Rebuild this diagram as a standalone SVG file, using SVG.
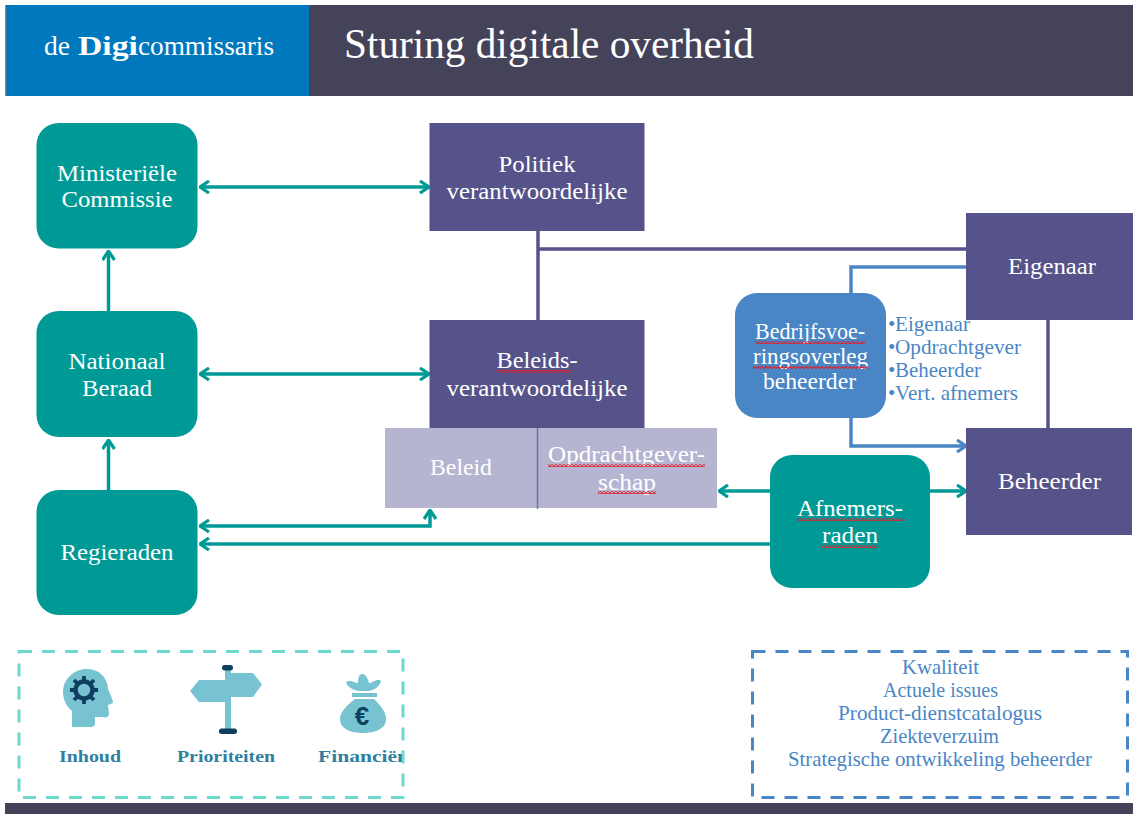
<svg xmlns="http://www.w3.org/2000/svg" width="1133" height="814" viewBox="0 0 1133 814">
<style>
text{font-family:"Liberation Serif","DejaVu Serif",serif;text-anchor:middle}
.w{fill:#fff;font-size:24px}
.p{fill:#4a86c5;font-size:21px}
.b{fill:#4a86c5;font-size:21px;text-anchor:start}
.l{fill:#2f7f9f;font-size:17px;font-weight:bold}
.teal{fill:#009a96}.pur{fill:#55538a}.lil{fill:#b5b5d2}
.ct{fill:none;stroke:#009a96;stroke-width:3.5}
.cp{fill:none;stroke:#55538a;stroke-width:3.5}
.cb{fill:none;stroke:#4a86c5;stroke-width:3.5}
.ic{fill:#78c3d1}.nv{fill:#0f3f5f}
</style>
<defs>
<marker id="at" viewBox="0 0 12 14" refX="11" refY="7" markerUnits="userSpaceOnUse" markerWidth="12" markerHeight="14" orient="auto-start-reverse"><path d="M2 1L11 7L2 13" fill="none" stroke="#009a96" stroke-width="3.2"/></marker>
<marker id="ab" viewBox="0 0 12 14" refX="11" refY="7" markerUnits="userSpaceOnUse" markerWidth="12" markerHeight="14" orient="auto"><path d="M2 1L11 7L2 13" fill="none" stroke="#4a86c5" stroke-width="3.2"/></marker>
<pattern id="sq" width="4" height="3" patternUnits="userSpaceOnUse"><path d="M0 2.500L2 .5L4 2.500" fill="none" stroke="#e0202c" stroke-width="1.200"/></pattern>
<clipPath id="fin"><rect x="300" y="740" width="102" height="40"/></clipPath>
</defs>

<g id="header">
<rect x="5" y="5" width="1128" height="91" fill="#44435a"/>
<rect x="5" y="5" width="1.500" height="91" fill="#8a8a8a"/>
<rect x="6.500" y="5" width="302.500" height="91" fill="#0078bd"/>
<text x="44" y="55" fill="#fff" font-size="27" style="text-anchor:start"><tspan x="44" textLength="26" lengthAdjust="spacingAndGlyphs">de</tspan><tspan x="78" font-weight="bold" textLength="60" lengthAdjust="spacingAndGlyphs">Digi</tspan><tspan x="138" textLength="136" lengthAdjust="spacingAndGlyphs">commissaris</tspan></text>
<text x="344" y="58" fill="#fff" font-size="43" style="text-anchor:start" textLength="410" lengthAdjust="spacingAndGlyphs">Sturing digitale overheid</text>
</g>
<rect id="footer" x="5" y="803" width="1128" height="11" fill="#44435a"/>

<g id="connectors">
<path class="ct" d="M200 187H429" marker-start="url(#at)" marker-end="url(#at)"/>
<path class="ct" d="M200 374H429" marker-start="url(#at)" marker-end="url(#at)"/>
<path class="ct" d="M108.500 311V251" marker-end="url(#at)"/>
<path class="ct" d="M108.500 490V440" marker-end="url(#at)"/>
<path class="ct" d="M200 526H430V510" marker-start="url(#at)" marker-end="url(#at)"/>
<path class="ct" d="M770 544H200" marker-end="url(#at)"/>
<path class="ct" d="M770 491H719" marker-end="url(#at)"/>
<path class="ct" d="M930 491H966" marker-end="url(#at)"/>
<path class="cp" d="M538 231V320M538 249H966M1048 320V428"/>
<path class="cb" d="M851 293V267H966"/>
<path class="cb" d="M851 418V446H966" marker-end="url(#ab)"/>
</g>

<g id="ministeriele"><rect class="teal" x="36.500" y="123" width="161" height="125.500" rx="22"/><text class="w"><tspan x="117" y="181" textLength="120" lengthAdjust="spacingAndGlyphs">Ministeriële</tspan><tspan x="117" y="207" textLength="111" lengthAdjust="spacingAndGlyphs">Commissie</tspan></text></g>
<g id="nationaal"><rect class="teal" x="36.500" y="311" width="161" height="126" rx="22"/><text class="w"><tspan x="117" y="369" textLength="97" lengthAdjust="spacingAndGlyphs">Nationaal</tspan><tspan x="117" y="396" textLength="70" lengthAdjust="spacingAndGlyphs">Beraad</tspan></text></g>
<g id="regieraden"><rect class="teal" x="36.500" y="490" width="161" height="125" rx="22"/><text class="w" x="117" y="560" textLength="113" lengthAdjust="spacingAndGlyphs">Regieraden</text></g>
<g id="politiek"><rect class="pur" x="429.500" y="123" width="215" height="108"/><text class="w"><tspan x="537" y="172" textLength="77" lengthAdjust="spacingAndGlyphs">Politiek</tspan><tspan x="537" y="199" textLength="181" lengthAdjust="spacingAndGlyphs">verantwoordelijke</tspan></text></g>
<g id="beleid-opdracht"><rect class="lil" x="385" y="428" width="332" height="80"/><path d="M537.500 428V509" stroke="#6f6fa3" stroke-width="1.500"/><text class="w" x="461" y="475" textLength="62" lengthAdjust="spacingAndGlyphs">Beleid</text><text class="w"><tspan x="626.500" y="462" textLength="157" lengthAdjust="spacingAndGlyphs">Opdrachtgever-</tspan><tspan x="627" y="490" textLength="58" lengthAdjust="spacingAndGlyphs">schap</tspan></text><rect x="548" y="464" width="157" height="3" fill="url(#sq)"/><rect x="598" y="491" width="58" height="3" fill="url(#sq)"/></g>
<g id="beleidsverantwoordelijke"><rect class="pur" x="429.500" y="320" width="215" height="108"/><text class="w"><tspan x="537" y="368" textLength="81" lengthAdjust="spacingAndGlyphs">Beleids-</tspan><tspan x="537" y="396" textLength="181" lengthAdjust="spacingAndGlyphs">verantwoordelijke</tspan></text><rect x="497" y="370" width="75" height="3" fill="url(#sq)"/></g>
<g id="eigenaar"><rect class="pur" x="966" y="213" width="167" height="107"/><text class="w" x="1052" y="274" textLength="88" lengthAdjust="spacingAndGlyphs">Eigenaar</text></g>
<g id="beheerder"><rect class="pur" x="966" y="428" width="166" height="107"/><text class="w" x="1049.500" y="489" textLength="103" lengthAdjust="spacingAndGlyphs">Beheerder</text></g>
<g id="bedrijfsvoering"><rect x="735" y="293" width="151" height="125" rx="22" fill="#4a86c5"/><text class="w"><tspan x="810" y="339" textLength="110" lengthAdjust="spacingAndGlyphs">Bedrijfsvoe-</tspan><tspan x="810.500" y="364" textLength="115" lengthAdjust="spacingAndGlyphs">ringsoverleg</tspan><tspan x="809.500" y="389" textLength="93" lengthAdjust="spacingAndGlyphs">beheerder</tspan></text><rect x="755" y="341" width="110" height="3" fill="url(#sq)"/><rect x="753" y="366" width="115" height="3" fill="url(#sq)"/></g>
<g id="afnemersraden"><rect class="teal" x="770" y="455" width="160" height="133" rx="22"/><text class="w"><tspan x="850" y="516" textLength="106" lengthAdjust="spacingAndGlyphs">Afnemers-</tspan><tspan x="850" y="543" textLength="56" lengthAdjust="spacingAndGlyphs">raden</tspan></text><rect x="797" y="518" width="106" height="3" fill="url(#sq)"/><rect x="822" y="545" width="56" height="3" fill="url(#sq)"/></g>

<g id="leden">
<text class="b" x="888" y="331">•<tspan x="895" textLength="75" lengthAdjust="spacingAndGlyphs">Eigenaar</tspan></text>
<text class="b" x="888" y="354">•<tspan x="895" textLength="126" lengthAdjust="spacingAndGlyphs">Opdrachtgever</tspan></text>
<text class="b" x="888" y="377">•<tspan x="895" textLength="86" lengthAdjust="spacingAndGlyphs">Beheerder</tspan></text>
<text class="b" x="888" y="400">•<tspan x="895" textLength="123" lengthAdjust="spacingAndGlyphs">Vert. afnemers</tspan></text>
</g>

<g id="legenda-links">
<rect x="19" y="651.500" width="384" height="146" fill="none" stroke="#6dd8cc" stroke-width="3" stroke-dasharray="13 10"/>
<g id="icon-inhoud">
<path class="ic" d="M72 727V711C66 706 63 699 63 692C63 679 74 669 87 669C99 669 107 677 108 688C108 691 113 698 113 703L108 705L109 714C109 717 106 718 102 717L95 717L95 723Q95 727 91 727Z"/>
<circle cx="84" cy="690" r="8.500" fill="none" stroke="#0f3f5f" stroke-width="4.500"/>
<path d="M84 676V680M84 700V704M70 690H74M94 690H98M74 680L77 683M91 697L94 700M94 680L91 683M77 697L74 700" stroke="#0f3f5f" stroke-width="3.800"/>
</g>
<g id="icon-prioriteiten">
<path class="ic" d="M225 670H231V673H253L262 684.500L253 697H231V731H225V702H199L190 691L199 680H225Z"/>
<rect class="nv" x="222" y="665" width="11" height="5.500" rx="2.700"/>
<rect class="nv" x="219" y="728.500" width="18" height="5.500" rx="2.700"/>
</g>
<g id="icon-financien">
<path class="ic" d="M346 682C350 679 355 683 358 683C358 679 359 674 362 674C366 674 368 679 369 683C373 683 378 677 381 681C380 686 375 690 369 691H359C353 690 347 687 346 682ZM352 693H377V697H352ZM355 699H374C381 706 386 712 386 719C386 729 375 733 363 733C351 733 340 729 340 719C340 712 347 705 355 699Z"/>
<text x="362" y="725" font-size="26" font-weight="bold" fill="#0f3f5f" style="font-family:'Liberation Sans',sans-serif">€</text>
</g>
<text class="l" x="90" y="762" textLength="62" lengthAdjust="spacingAndGlyphs">Inhoud</text>
<text class="l" x="226" y="762" textLength="98" lengthAdjust="spacingAndGlyphs">Prioriteiten</text>
<text class="l" x="318" y="762" clip-path="url(#fin)" style="text-anchor:start" textLength="91" lengthAdjust="spacingAndGlyphs">Financiën</text>
</g>

<g id="legenda-rechts">
<rect x="752.500" y="651.500" width="375" height="146" fill="none" stroke="#4a86c5" stroke-width="3" stroke-dasharray="13 10"/>
<text class="p" x="940.500" y="674" textLength="77" lengthAdjust="spacingAndGlyphs">Kwaliteit</text>
<text class="p" x="940.500" y="697" textLength="115" lengthAdjust="spacingAndGlyphs">Actuele issues</text>
<text class="p" x="940" y="720" textLength="204" lengthAdjust="spacingAndGlyphs">Product-dienstcatalogus</text>
<text class="p" x="939.500" y="743" textLength="119" lengthAdjust="spacingAndGlyphs">Ziekteverzuim</text>
<text class="p" x="940" y="766" textLength="304" lengthAdjust="spacingAndGlyphs">Strategische ontwikkeling beheerder</text>
</g>
</svg>
